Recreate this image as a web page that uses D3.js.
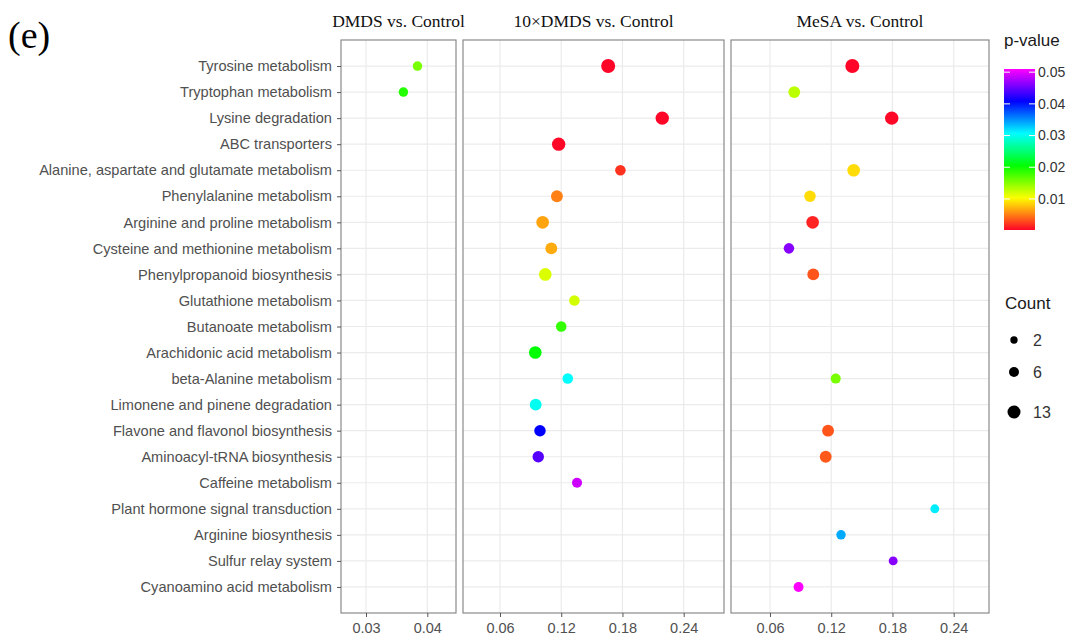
<!DOCTYPE html>
<html><head><meta charset="utf-8">
<script src="https://cdn.jsdelivr.net/npm/d3@7"></script>
<style>body{margin:0;background:#fff;overflow:hidden}</style>
</head><body>
<svg id="c" width="1067" height="635"></svg>
<script>
const categories = [
  "Tyrosine metabolism","Tryptophan metabolism","Lysine degradation","ABC transporters",
  "Alanine, aspartate and glutamate metabolism","Phenylalanine metabolism",
  "Arginine and proline metabolism","Cysteine and methionine metabolism",
  "Phenylpropanoid biosynthesis","Glutathione metabolism","Butanoate metabolism",
  "Arachidonic acid metabolism","beta-Alanine metabolism","Limonene and pinene degradation",
  "Flavone and flavonol biosynthesis","Aminoacyl-tRNA biosynthesis","Caffeine metabolism",
  "Plant hormone signal transduction","Arginine biosynthesis","Sulfur relay system",
  "Cyanoamino acid metabolism"
];
const panelNames = ["DMDS vs. Control", "10\u00D7DMDS vs. Control", "MeSA vs. Control"];
const N = null;
// DMDS vs. Control
const ratioDMDS = [0.0384,0.0361,N,N,N,N,N,N,N,N,N,N,N,N,N,N,N,N,N,N,N];
const pDMDS     = [0.0156,0.0190,N,N,N,N,N,N,N,N,N,N,N,N,N,N,N,N,N,N,N];
const countDMDS = [5,5,N,N,N,N,N,N,N,N,N,N,N,N,N,N,N,N,N,N,N];
// 10xDMDS vs. Control
const ratio10x = [0.166,N,0.219,0.1175,0.178,0.1158,0.1018,0.1103,0.1044,0.1329,0.120,0.0946,0.1264,0.095,0.0992,0.0975,0.1355,N,N,N,N];
const p10x     = [0.0002,N,0.0002,0.0003,0.0020,0.0051,0.0065,0.0068,0.0116,0.0120,0.0184,0.0205,0.0306,0.0300,0.0408,0.0442,0.0490,N,N,N,N];
const count10x = [16,N,14,14,7,10,12,10,12,7,7,12,7,10,9,9,6,N,N,N,N];
// MeSA vs. Control
const ratioMeSA = [0.1407,0.0838,0.1793,N,0.142,0.0992,0.1018,0.0786,0.1024,N,N,N,0.1244,N,0.1169,0.1146,N,0.2215,0.1296,0.1807,0.088];
const pMeSA     = [0.0002,0.0129,0.0003,N,0.0088,0.0088,0.0014,0.0462,0.0034,N,N,N,0.0156,N,0.0034,0.0036,N,0.0313,0.0340,0.0462,0.0510];
const countMeSA = [16,10,14,N,12,9,12,7,10,N,N,N,6,N,10,10,N,4,5,4,6];

const xTicks = [[0.03,0.04],[0.06,0.12,0.18,0.24],[0.06,0.12,0.18,0.24]];
const pTicks = [0.01,0.02,0.03,0.04,0.05];
const countBreaks = [2,6,13];
const pStops = [0, 0.0102, 0.0204, 0.0306, 0.0408, 0.051];
const pColors = ["#ff0028","#ffff00","#00ff00","#00ffff","#0000ff","#ff00ff"];

const series = [
  {ratio: ratioDMDS, p: pDMDS, count: countDMDS},
  {ratio: ratio10x, p: p10x, count: count10x},
  {ratio: ratioMeSA, p: pMeSA, count: countMeSA}
];

const svg = d3.select("#c");
const pTop = 40, pBottom = 613;
const panelPx = [[341,456],[463,724],[731,989]];
const xDomains = [[0.02592,0.04468],[0.02376,0.2795],[0.0218,0.2746]];

const y = d3.scalePoint().domain(categories).range([pTop, pBottom]).padding(1);
const color = d3.scaleLinear().domain(pStops).range(pColors).clamp(true);
const rScale = d3.scaleSqrt().domain([2,16]).range([3.7,7]);

const gray = "#505050";
const axisFont = "'Liberation Sans', Arial, sans-serif";
const serif = "'Liberation Serif', 'Times New Roman', serif";

svg.append("text").attr("x",8).attr("y",48).attr("font-family",serif)
  .attr("font-size",38).attr("fill","#000").text("(e)");

series.forEach((s, i) => {
  const [x0, x1] = panelPx[i];
  const x = d3.scaleLinear().domain(xDomains[i]).range([x0, x1]);
  const g = svg.append("g");
  g.append("rect").attr("x",x0).attr("y",pTop).attr("width",x1-x0).attr("height",pBottom-pTop).attr("fill","#fff");
  g.selectAll(".hg").data(categories).join("line").attr("class","hg")
    .attr("x1",x0).attr("x2",x1).attr("y1",d=>y(d)).attr("y2",d=>y(d))
    .attr("stroke","#ebebeb").attr("stroke-width",1.2);
  g.selectAll(".vg").data(xTicks[i]).join("line").attr("class","vg")
    .attr("x1",d=>x(d)).attr("x2",d=>x(d)).attr("y1",pTop).attr("y2",pBottom)
    .attr("stroke","#ebebeb").attr("stroke-width",1.2);
  const pts = categories.map((c, k) => ({c, v: s.ratio[k], p: s.p[k], n: s.count[k]})).filter(d => d.v != null);
  g.selectAll("circle").data(pts).join("circle")
    .attr("cx", d => x(d.v)).attr("cy", d => y(d.c)).attr("r", d => rScale(d.n))
    .attr("fill", d => color(d.p));
  g.append("rect").attr("x",x0).attr("y",pTop).attr("width",x1-x0).attr("height",pBottom-pTop)
    .attr("fill","none").attr("stroke","#8a8a8a").attr("stroke-width",1.2);
  const ax = g.append("g").attr("transform",`translate(0,${pBottom})`)
    .call(d3.axisBottom(x).tickValues(xTicks[i]).tickFormat(d3.format(".2f")).tickSize(4).tickPadding(6));
  ax.select(".domain").remove();
  ax.selectAll("line").attr("stroke","#555");
  ax.selectAll("text").attr("font-family",axisFont).attr("font-size",14.5).attr("fill",gray);
  svg.append("text").attr("x",(x0+x1)/2).attr("y",27).attr("text-anchor","middle")
    .attr("font-family",serif).attr("font-size",17.5).attr("fill","#111").text(panelNames[i]);
});

const ay = svg.append("g").attr("transform","translate(341,0)")
  .call(d3.axisLeft(y).tickSize(4).tickPadding(5));
ay.select(".domain").remove();
ay.selectAll("line").attr("stroke","#555");
ay.selectAll("text").attr("font-family",axisFont).attr("font-size",14.6).attr("fill",gray);

const pMin = 0.0002, pMax = 0.051;
const ly = d3.scaleLinear().domain([pMin, pMax]).range([230, 69]);
const defs = svg.append("defs");
const grad = defs.append("linearGradient").attr("id","pg").attr("x1",0).attr("y1",1).attr("x2",0).attr("y2",0);
d3.range(0, 1.0001, 0.05).forEach(t => {
  const v = pMin + t*(pMax-pMin);
  grad.append("stop").attr("offset", t).attr("stop-color", color(v));
});
svg.append("text").attr("x",1004).attr("y",46).attr("font-family",axisFont).attr("font-size",17).attr("fill","#1a1a1a").text("p-value");
svg.append("rect").attr("x",1004).attr("y",69).attr("width",31).attr("height",161).attr("fill","url(#pg)");
pTicks.forEach(t => {
  svg.append("line").attr("x1",1004).attr("x2",1010).attr("y1",ly(t)).attr("y2",ly(t)).attr("stroke","#fff").attr("stroke-width",1);
  svg.append("line").attr("x1",1029).attr("x2",1035).attr("y1",ly(t)).attr("y2",ly(t)).attr("stroke","#fff").attr("stroke-width",1);
  svg.append("text").attr("x",1038).attr("y",ly(t)).attr("dy","0.35em").attr("font-family",axisFont)
    .attr("font-size",14).attr("fill","#333").text(d3.format(".2f")(t));
});

svg.append("text").attr("x",1005).attr("y",309).attr("font-family",axisFont).attr("font-size",17).attr("fill","#1a1a1a").text("Count");
const cyL = [340, 372, 412];
countBreaks.forEach((c, k) => {
  svg.append("circle").attr("cx",1014).attr("cy",cyL[k]).attr("r",rScale(c)).attr("fill","#000");
  svg.append("text").attr("x",1033).attr("y",cyL[k]).attr("dy","0.36em").attr("font-family",axisFont)
    .attr("font-size",16).attr("fill","#333").text(c);
});
</script>
</body></html>
